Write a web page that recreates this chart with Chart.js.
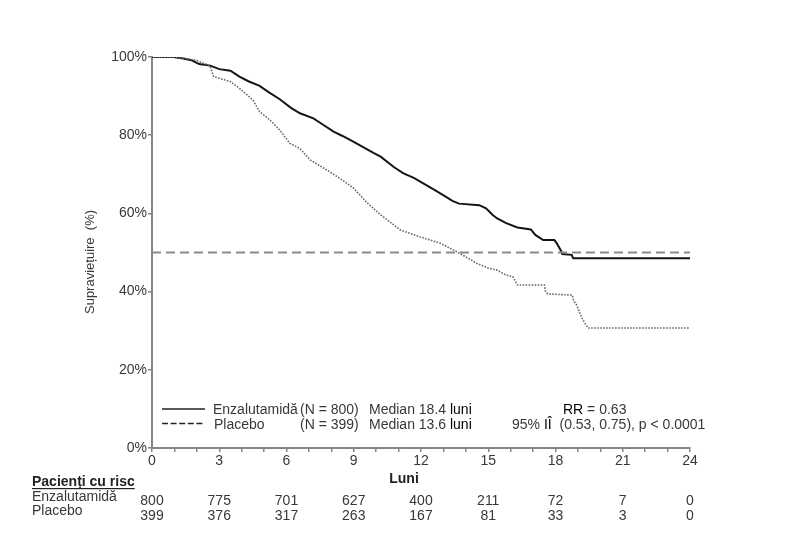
<!DOCTYPE html>
<html>
<head>
<meta charset="utf-8">
<script src="https://cdn.jsdelivr.net/npm/chart.js@4"></script>
<style>
  html, body { margin: 0; padding: 0; background: #fff; }
</style>
</head>
<body>
<canvas id="kmChart" width="787" height="539"></canvas>
<script>
// Kaplan-Meier curves (months, survival %)
const enzaMonths = [0, 0.95, 1.4, 1.8, 2.1, 2.6, 3.0, 3.5, 3.9, 4.3, 4.8, 5.2, 5.7, 6.2, 6.6, 7.2, 7.6, 8.1, 8.5, 9.0, 9.4, 9.9, 10.2, 10.8, 11.2, 11.7, 12.1, 12.6, 13.1, 13.4, 13.7, 14.6, 14.9, 15.2, 15.4, 15.8, 16.3, 16.9, 17.1, 17.45, 17.95, 18.05, 18.27, 18.3, 18.72, 18.79, 24];
const enzaSurv = [100, 100, 99.6, 99.1, 98.2, 97.8, 96.9, 96.5, 95.0, 93.8, 92.6, 91.0, 89.2, 87.0, 85.6, 84.3, 82.8, 80.9, 79.8, 78.3, 77.0, 75.4, 74.5, 71.8, 70.3, 69.0, 67.7, 66.0, 64.3, 63.2, 62.5, 62.1, 61.3, 59.6, 58.7, 57.5, 56.4, 55.9, 54.5, 53.2, 53.2, 52.4, 50.2, 49.6, 49.4, 48.5, 48.5];

const placeboMonths = [0, 1.0, 1.5, 2.0, 2.4, 2.6, 2.75, 3.5, 3.9, 4.5, 4.8, 5.26, 5.7, 6.15, 6.6, 7.05, 7.8, 8.5, 9.0, 9.6, 10.2, 10.6, 11.06, 11.95, 12.85, 13.6, 14.5, 15.0, 15.4, 15.8, 16.1, 16.3, 17.5, 17.55, 17.65, 18.75, 18.8, 18.95, 19.05, 19.15, 19.3, 19.45, 24];
const placeboSurv = [100, 100, 99.6, 99.1, 98.2, 97.5, 95.0, 93.7, 92.0, 89.0, 86.0, 83.9, 81.3, 77.9, 76.6, 73.7, 71.1, 68.5, 66.4, 62.7, 59.6, 57.9, 55.8, 54.0, 52.4, 50.2, 47.2, 46.0, 45.5, 44.2, 43.8, 41.7, 41.7, 40.2, 39.4, 39.1, 37.8, 36.5, 35.0, 33.6, 32.0, 30.7, 30.7];

const medianLevel = 50;

// patients at risk table
const riskMonths = [0, 3, 6, 9, 12, 15, 18, 21, 24];
const enzaAtRisk = [800, 775, 701, 627, 400, 211, 72, 7, 0];
const placeboAtRisk = [399, 376, 317, 263, 167, 81, 33, 3, 0];

const yTicks = [0, 20, 40, 60, 80, 100];

function toPoints(xs, ys) {
  return xs.map((x, i) => ({ x: x, y: ys[i] }));
}

const FONT = '"Liberation Sans", Arial, sans-serif';
const TEXT = '#383838';
const DARK = '#000';
const AXIS = '#858585';

// draw a run of [text, colour] parts one after another
function drawParts(ctx, parts, x, y) {
  parts.forEach(([t, c]) => {
    ctx.fillStyle = c;
    ctx.fillText(t, x, y);
    x += ctx.measureText(t).width;
  });
  ctx.fillStyle = TEXT;
}

// texts drawn on top: legend, axis titles, risk table
const textPlugin = {
  id: 'kmText',
  afterDraw(chart) {
    const ctx = chart.ctx;
    const xs = chart.scales.x;
    ctx.save();
    ctx.fillStyle = TEXT;
    ctx.textBaseline = 'alphabetic';

    // legend inside the plot
    ctx.strokeStyle = '#222';
    ctx.lineWidth = 1.5;
    ctx.beginPath();
    ctx.moveTo(162, 409); ctx.lineTo(205, 409);
    ctx.stroke();
    ctx.setLineDash([6, 2.6]);
    ctx.beginPath();
    ctx.moveTo(162, 423.5); ctx.lineTo(205, 423.5);
    ctx.stroke();
    ctx.setLineDash([]);

    ctx.font = '14px ' + FONT;
    ctx.textAlign = 'left';
    ctx.fillText('Enzalutamidă', 213, 414);
    ctx.fillText('(N = 800)', 300, 414);
    drawParts(ctx, [['Median 18.4 ', TEXT], ['luni', DARK]], 369, 414);
    ctx.fillText('Placebo', 214, 428.5);
    ctx.fillText('(N = 399)', 300, 428.5);
    drawParts(ctx, [['Median 13.6 ', TEXT], ['luni', DARK]], 369, 428.5);
    drawParts(ctx, [['RR', DARK], [' = 0.63', TEXT]], 563, 414);
    drawParts(ctx, [['95% ', TEXT], ['IÎ', DARK], ['  (0.53, 0.75), p < 0.0001', TEXT]], 512, 428.5);

    // y title
    ctx.save();
    ctx.translate(94, 262);
    ctx.rotate(-Math.PI / 2);
    ctx.textAlign = 'center';
    ctx.font = '13px ' + FONT;
    ctx.fillText('Supraviețuire  (%)', 0, 0);
    ctx.restore();

    // x title
    ctx.fillStyle = '#222';
    ctx.font = 'bold 14px ' + FONT;
    ctx.textAlign = 'center';
    ctx.fillText('Luni', 404, 483);

    // risk table
    ctx.textAlign = 'left';
    ctx.fillText('Pacienți cu risc', 32, 486);
    const w = ctx.measureText('Pacienți cu risc').width;
    ctx.fillRect(32, 488, w, 1.2);
    ctx.fillStyle = TEXT;
    ctx.font = '14px ' + FONT;
    ctx.fillText('Enzalutamidă', 32, 501);
    ctx.fillText('Placebo', 32, 515);
    ctx.textAlign = 'center';
    riskMonths.forEach((m, i) => {
      const px = xs.getPixelForValue(m);
      ctx.fillText(String(enzaAtRisk[i]), px, 505);
      ctx.fillText(String(placeboAtRisk[i]), px, 520);
    });
    ctx.restore();
  }
};

new Chart(document.getElementById('kmChart'), {
  type: 'line',
  data: {
    datasets: [
      {
        label: 'Median',
        data: [{ x: 0, y: medianLevel }, { x: 24, y: medianLevel }],
        borderColor: '#8a8a8a',
        borderWidth: 2,
        borderDash: [9, 5],
        pointRadius: 0
      },
      {
        label: 'Placebo',
        data: toPoints(placeboMonths, placeboSurv),
        borderColor: '#6a6a6a',
        borderWidth: 1.6,
        borderDash: [1.6, 1.4],
        pointRadius: 0
      },
      {
        label: 'Enzalutamidă',
        data: toPoints(enzaMonths, enzaSurv),
        borderColor: '#151515',
        borderWidth: 2,
        pointRadius: 0
      }
    ]
  },
  options: {
    responsive: false,
    animation: false,
    layout: { padding: { left: 0, top: 57, right: 97, bottom: 0 } },
    plugins: { legend: { display: false }, tooltip: { enabled: false } },
    scales: {
      x: {
        type: 'linear',
        min: 0,
        max: 24,
        afterFit: (s) => { s.height = 91; },
        ticks: {
          stepSize: 1,
          autoSkip: false,
          maxRotation: 0,
          padding: 1,
          color: TEXT,
          font: { size: 14, family: FONT },
          callback: (v) => (v % 3 === 0 ? String(v) : '')
        },
        grid: { drawOnChartArea: false, drawTicks: true, tickLength: 4, color: AXIS, lineWidth: 1.5 },
        border: { color: AXIS, width: 2 }
      },
      y: {
        min: 0,
        max: 100,
        afterFit: (s) => { s.width = 152; },
        afterBuildTicks: (s) => { s.ticks = yTicks.map(v => ({ value: v })); },
        ticks: {
          padding: 1,
          color: TEXT,
          font: { size: 14, family: FONT },
          callback: (v) => v + '%'
        },
        grid: { drawOnChartArea: false, drawTicks: true, tickLength: 4, color: AXIS, lineWidth: 1.5 },
        border: { color: AXIS, width: 2 }
      }
    }
  },
  plugins: [textPlugin]
});
</script>
</body>
</html>
